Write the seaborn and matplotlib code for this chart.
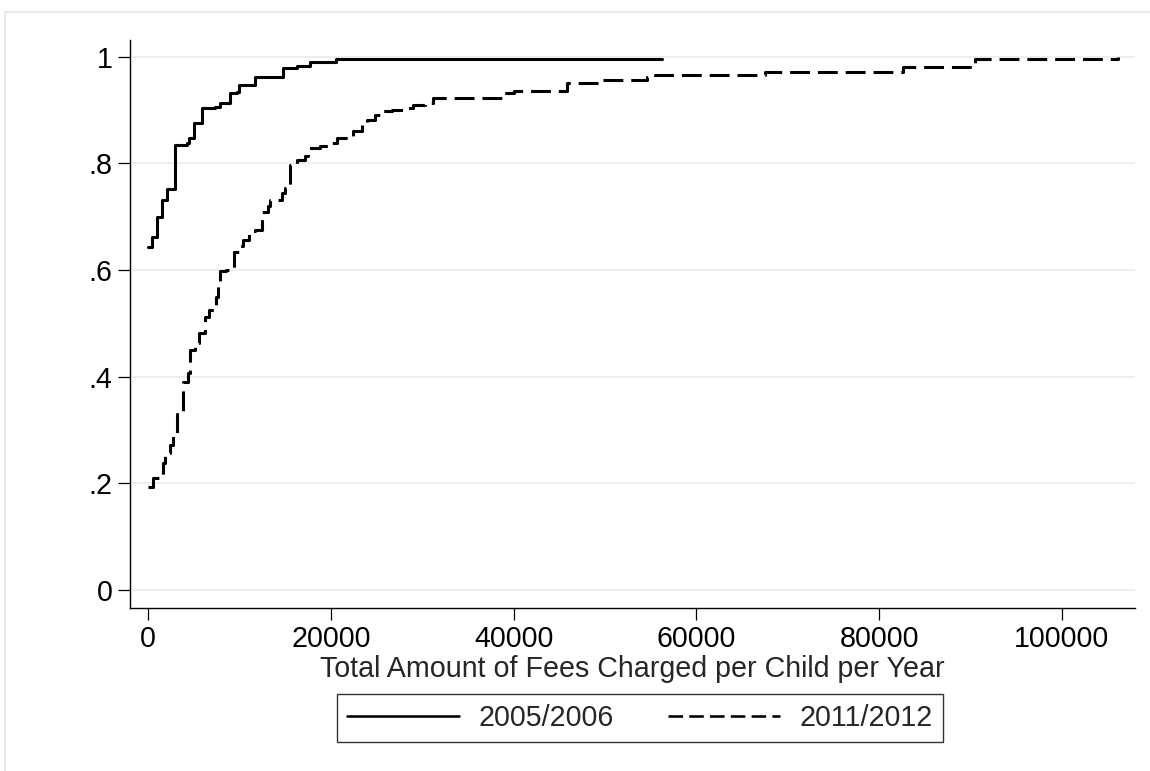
import matplotlib
matplotlib.use("Agg")
import matplotlib.pyplot as plt
from matplotlib.patches import Rectangle
from matplotlib.lines import Line2D
import seaborn as sns
import pandas as pd

fees_0506 = [0, 450, 1000, 1500, 2100, 2950, 4230, 4490, 5030, 5870, 7330, 7880,
             8970, 9700, 9880, 11700, 14800, 16300, 17700, 20600, 56200]
cdf_0506 = [0.642, 0.662, 0.700, 0.731, 0.752, 0.834, 0.837, 0.847, 0.875, 0.903, 0.906,
            0.913, 0.931, 0.934, 0.946, 0.962, 0.978, 0.983, 0.989, 0.995, 0.995]

fees_1112 = [0, 550, 1650, 1850, 2400, 2750, 3150, 3850, 4400, 4600, 5150, 5500, 6250,
             6600, 7400, 7600, 7850, 8500, 9330, 10050, 10400, 11000, 11700, 12400,
             12500, 13150, 13300, 14600, 15000, 15550, 16250, 17150, 17500, 18800,
             19800, 20650, 21900, 22450, 23350, 23900, 24800, 25700, 26650, 28100,
             29000, 30300, 31200, 38900, 40000, 45800, 49400, 54600, 55500, 67500,
             82600, 89900, 90500, 106100]
cdf_1112 = [0.192, 0.210, 0.238, 0.257, 0.272, 0.290, 0.330, 0.390, 0.407, 0.450, 0.463,
            0.482, 0.512, 0.525, 0.550, 0.569, 0.597, 0.600, 0.634, 0.644, 0.656, 0.672,
            0.675, 0.694, 0.709, 0.719, 0.731, 0.744, 0.753, 0.797, 0.806, 0.813, 0.828,
            0.832, 0.838, 0.847, 0.851, 0.860, 0.875, 0.881, 0.891, 0.897, 0.900, 0.903,
            0.909, 0.913, 0.922, 0.932, 0.935, 0.950, 0.956, 0.962, 0.966, 0.971, 0.981,
            0.987, 0.995, 1.000]

series_labels = ["2005/2006", "2011/2012"]
x_ticks = [0, 20000, 40000, 60000, 80000, 100000]
y_ticks = [0, 0.2, 0.4, 0.6, 0.8, 1.0]
y_ticklabels = ["0", ".2", ".4", ".6", ".8", "1"]
x_label = "Total Amount of Fees Charged per Child per Year"

sns.set_theme(style="white")
plt.rcParams["font.family"] = ["Liberation Sans", "DejaVu Sans"]

FS = 20.6
W, H = 1150, 771
fig = plt.figure(figsize=(W / 100, H / 100), dpi=100)
ax = fig.add_axes([130 / W, 1 - 608 / H, (1135 - 130) / W, (608 - 40) / H])

df1 = pd.DataFrame({"fee": fees_0506, "cdf": cdf_0506})
df2 = pd.DataFrame({"fee": fees_1112, "cdf": cdf_1112})
lw = 2.2
sns.lineplot(data=df1, x="fee", y="cdf", ax=ax, color="black", lw=lw,
             drawstyle="steps-post", estimator=None, sort=False)
sns.lineplot(data=df2, x="fee", y="cdf", ax=ax, color="black", lw=lw,
             drawstyle="steps-post", estimator=None, sort=False,
             dashes=False, linestyle=(0, (6.5, 2.6)))

ax.set_xlim(-2000, 108000)
ax.set_ylim(-0.034, 1.031)
ax.set_xticks(x_ticks)
ax.set_xticklabels([str(v) for v in x_ticks])
ax.set_yticks(y_ticks)
ax.set_yticklabels(y_ticklabels)
ax.set_xlabel(x_label, fontsize=FS, labelpad=1)
ax.set_ylabel("")

for s in ["top", "right"]:
    ax.spines[s].set_visible(False)
for s in ["left", "bottom"]:
    ax.spines[s].set_color("black")
    ax.spines[s].set_linewidth(1.0)

ax.tick_params(axis="both", which="major", direction="out", length=8.5, width=0.9,
               color="black", labelsize=FS, labelcolor="black",
               left=True, bottom=True)
ax.tick_params(axis="y", pad=4)
ax.tick_params(axis="x", pad=4)
ax.grid(False)
for yv in y_ticks:
    ax.axhline(yv, color="#eaf0f2", lw=1.6, zorder=0)

handles = [Line2D([], [], color="black", lw=lw * 0.85),
           Line2D([], [], color="black", lw=lw * 0.85, linestyle=(0, (5.6, 2.4)))]
leg = fig.legend(handles, series_labels, loc="center", ncol=2,
                 bbox_to_anchor=(640 / W, 1 - 718 / H), frameon=True,
                 fontsize=FS, handlelength=3.9, handletextpad=0.7,
                 columnspacing=1.9, borderpad=0.35, fancybox=False)
leg.get_frame().set_edgecolor("black")
leg.get_frame().set_linewidth(1.0)

# outer light frame
fig.add_artist(Rectangle((5 / W, -0.1), 1.2, 1 - 12 / H + 0.1, transform=fig.transFigure,
                         fill=False, edgecolor="#e6ecee", lw=1.6))

fig.savefig("out.png", dpi=100)
